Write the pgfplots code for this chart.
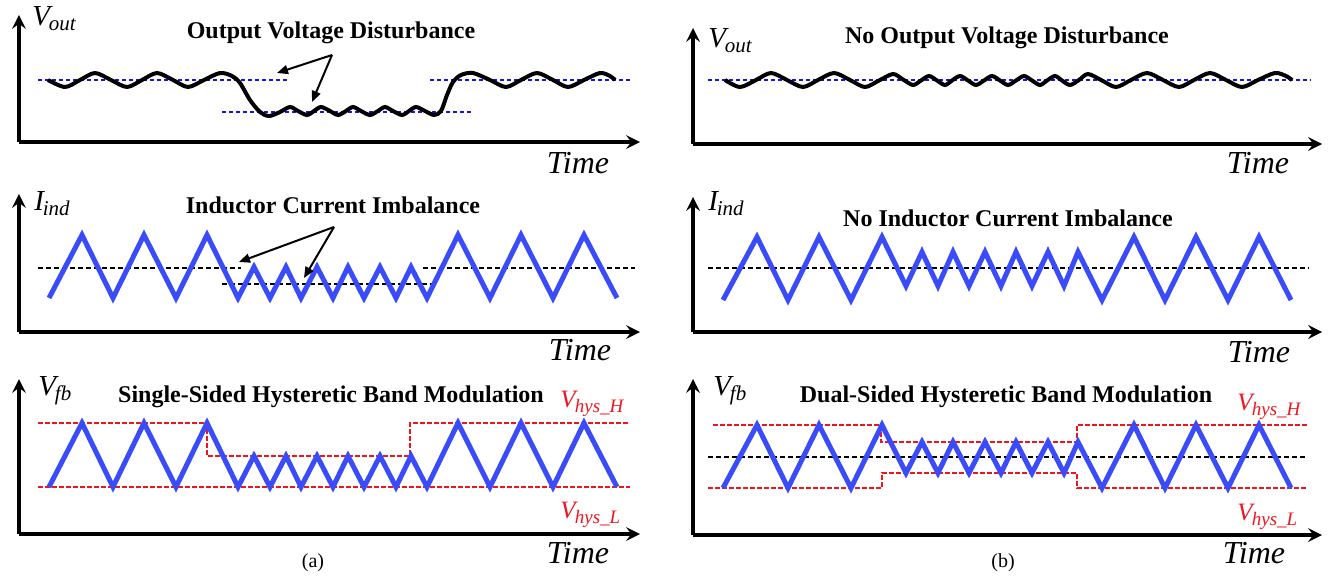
\documentclass[border=0pt]{standalone}
\usepackage{fontspec}
\setmainfont{Liberation Serif}
\usepackage{pgfplots}
\pgfplotsset{compat=1.18}
\usetikzlibrary{arrows.meta}

\definecolor{triblue}{RGB}{58,76,250}
\definecolor{dotblue}{RGB}{20,20,230}
\definecolor{hysred}{RGB}{240,20,30}

\newcommand{\ttl}[1]{{\fontsize{12pt}{14pt}\selectfont\bfseries #1}}
\newcommand{\axlab}[2]{{\fontsize{14.5pt}{16pt}\selectfont\itshape #1\kern-0.6pt\raisebox{-2.6pt}{\fontsize{10.5pt}{11pt}\selectfont #2}}}
\newcommand{\timelab}{{\fontsize{16pt}{18pt}\selectfont\itshape Time}}
\newcommand{\hyslab}[1]{{\color{hysred}\fontsize{12.5pt}{14pt}\selectfont\itshape V\kern-0.4pt\raisebox{-2.5pt}{\fontsize{9.5pt}{10pt}\selectfont hys\_#1}}}

\tikzset{annot/.style={-{Triangle[length=5.5pt,width=4.5pt]}, line width=1pt}}
\pgfplotsset{
  panel/.style={
    x=0.5pt, y=0.5pt, anchor=south west,
    axis lines=left, ticks=none, clip=false, enlargelimits=false,
    every non boxed x axis/.append style={x axis line style={-{Triangle[length=9pt,width=8.5pt]}}},
    every non boxed y axis/.append style={y axis line style={-{Triangle[length=9pt,width=8.5pt]}}},
    axis line style={line width=2pt},
  },
  tri/.style={color=triblue, line width=2.5pt, line join=miter, no marks},
  vout/.style={black, line width=2pt, smooth, no marks},
  bluedot/.style={dotblue, line width=1.1pt, dash pattern=on 2pt off 1.5pt, no marks},
  reddash/.style={hysred, line width=1pt, dash pattern=on 2.3pt off 1.2pt, no marks},
  blackdash/.style={black, line width=1pt, dash pattern=on 2.5pt off 1.5pt, no marks},
}

\begin{document}
\begin{tikzpicture}
\path[use as bounding box] (0,0) rectangle (665pt,-289pt);

% ---------------- (a) top: Vout
\begin{axis}[panel, xmin=19, xmax=640, ymin=-142, ymax=-15, at={(9.5pt,-71pt)}]
\addplot[bluedot] coordinates {(38,-80)(287,-80)};
\addplot[bluedot] coordinates {(222,-112)(473,-112)};
\addplot[bluedot] coordinates {(430,-80)(630,-80)};
\addplot[vout] coordinates {(48,-80)(65,-87)(80,-80)(95,-73)(111,-80)(127,-87)(142,-80)(157,-73)(173,-80)(188,-87)(204,-80)(220,-73)(232,-76)(240,-83)(250,-100)(260,-112)(269,-116)(280,-112)(290,-107)(298,-111)(307,-115)(314,-111)(321,-107)(330,-111)(338,-115)(346,-111)(353,-107)(361,-111)(370,-115)(378,-111)(385,-107)(393,-111)(402,-115)(409,-111)(416,-107)(425,-111)(434,-115)(441,-111)(447,-95)(453,-82)(461,-75)(473,-73)(490,-80)(506,-87)(521,-80)(537,-73)(553,-80)(568,-87)(584,-80)(600,-73)(610,-76)(615,-80)};
\node[inner sep=0] at (axis cs:331,-33) {\ttl{Output Voltage Disturbance}};
\draw[annot] (axis cs:332,-55) -- (axis cs:277,-73);
\draw[annot] (axis cs:332,-55) -- (axis cs:312,-102);
\node[anchor=base west, inner sep=0] at (axis cs:32,-25) {\axlab{V}{out}};
\node[inner sep=0] at (axis cs:578,-163) {\timelab};
\end{axis}

% ---------------- (a) middle: Iind
\begin{axis}[panel, xmin=19, xmax=640, ymin=-332, ymax=-194, at={(9.5pt,-166pt)}]
\addplot[blackdash] coordinates {(38,-268)(241,-268)};
\addplot[blackdash] coordinates {(222,-284)(434,-284)};
\addplot[blackdash] coordinates {(423,-268)(635,-268)};
\addplot[tri] coordinates {(49,-298)(82,-235)(113,-298)(144,-235)(176,-298)(207,-235)(238,-298)(254,-267)(270,-298)(286,-267)(301,-298)(317,-267)(333,-298)(348,-267)(364,-298)(380,-267)(396,-298)(411,-267)(427,-298)(458,-235)(490,-298)(521,-235)(553,-298)(584,-235)(617,-298)};
\node[inner sep=0] at (axis cs:333,-205) {\ttl{Inductor Current Imbalance}};
\draw[annot] (axis cs:334,-227) -- (axis cs:239,-262);
\draw[annot] (axis cs:334,-227) -- (axis cs:304,-278);
\node[anchor=base west, inner sep=0] at (axis cs:34,-210) {\axlab{I}{ind}};
\node[inner sep=0] at (axis cs:580,-350) {\timelab};
\end{axis}

% ---------------- (a) bottom: Vfb
\begin{axis}[panel, xmin=19, xmax=640, ymin=-534, ymax=-379, at={(9.5pt,-267pt)}]
\addplot[reddash] coordinates {(38,-423)(207,-423)(207,-456)(410,-456)(410,-423)(630,-423)};
\addplot[reddash] coordinates {(38,-487)(630,-487)};
\addplot[tri] coordinates {(49,-487)(82,-423)(113,-487)(144,-423)(176,-487)(207,-423)(238,-487)(254,-456)(270,-487)(286,-456)(301,-487)(317,-456)(333,-487)(348,-456)(364,-487)(380,-456)(396,-487)(411,-456)(427,-487)(458,-423)(490,-487)(521,-423)(553,-487)(584,-423)(617,-487)};
\node[inner sep=0] at (axis cs:331,-397) {\ttl{Single-Sided Hysteretic Band Modulation}};
\node[anchor=base west, inner sep=0] at (axis cs:38,-395) {\axlab{V}{fb}};
\node[anchor=base west, inner sep=0] at (axis cs:560,-407) {\hyslab{H}};
\node[anchor=base west, inner sep=0] at (axis cs:560,-518) {\hyslab{L}};
\node[inner sep=0] at (axis cs:578,-553) {\timelab};
\node[inner sep=0] at (axis cs:313,-563) {\fontsize{10pt}{12pt}\selectfont (a)};
\end{axis}

% ---------------- (b) top: Vout
\begin{axis}[panel, xmin=693, xmax=1322, ymin=-144, ymax=-28, at={(346.5pt,-72pt)}]
\addplot[bluedot] coordinates {(708,-80)(1311,-80)};
\addplot[vout] coordinates {(725,-80)(740,-87)(756,-80)(771,-73)(787,-80)(803,-87)(818,-80)(834,-73)(850,-80)(865,-87)(879,-80.5)(893,-74)(903,-79.5)(913,-85)(921,-80.5)(929,-76)(937,-80.5)(945,-85)(952,-80.5)(960,-76)(968,-80.5)(976,-85)(984,-80.5)(992,-76)(1000,-80.5)(1008,-85)(1016,-80.5)(1024,-76)(1032,-80.5)(1040,-85)(1047,-80.5)(1055,-76)(1062,-80.5)(1070,-85)(1079,-80)(1088,-74)(1102,-80.5)(1116,-87)(1131,-80)(1147,-73)(1163,-80)(1179,-87)(1194,-80)(1210,-73)(1226,-80)(1242,-87)(1258,-80)(1275,-73)(1286,-76)(1292,-80)};
\node[inner sep=0] at (axis cs:1007,-38) {\ttl{No Output Voltage Disturbance}};
\node[anchor=base west, inner sep=0] at (axis cs:708,-47) {\axlab{V}{out}};
\node[inner sep=0] at (axis cs:1258,-163) {\timelab};
\end{axis}

% ---------------- (b) middle: Iind
\begin{axis}[panel, xmin=693, xmax=1322, ymin=-332, ymax=-197, at={(346.5pt,-166pt)}]
\addplot[blackdash] coordinates {(708,-268)(1309,-268)};
\addplot[tri] coordinates {(723,-300)(757,-237)(788,-300)(819,-237)(851,-300)(882,-237)(906,-286)(922,-252)(938,-286)(953,-252)(969,-286)(985,-252)(1001,-286)(1016,-252)(1032,-286)(1048,-252)(1064,-286)(1078,-252)(1102,-300)(1134,-237)(1165,-300)(1196,-237)(1228,-300)(1259,-237)(1291,-300)};
\node[inner sep=0] at (axis cs:1008,-218) {\ttl{No Inductor Current Imbalance}};
\node[anchor=base west, inner sep=0] at (axis cs:708,-210) {\axlab{I}{ind}};
\node[inner sep=0] at (axis cs:1259,-352) {\timelab};
\end{axis}

% ---------------- (b) bottom: Vfb
\begin{axis}[panel, xmin=693, xmax=1322, ymin=-535, ymax=-379, at={(346.5pt,-267.5pt)}]
\addplot[blackdash] coordinates {(708,-457)(1307,-457)};
\addplot[reddash] coordinates {(713,-425)(881,-425)(881,-442)(1077,-442)(1077,-425)(1307,-425)};
\addplot[reddash] coordinates {(708,-488)(882,-488)(882,-473)(1077,-473)(1077,-488)(1307,-488)};
\addplot[tri] coordinates {(723,-488)(757,-425)(788,-488)(819,-425)(851,-488)(882,-425)(906,-473)(922,-442)(938,-473)(953,-442)(969,-473)(985,-442)(1001,-473)(1016,-442)(1032,-473)(1048,-442)(1064,-473)(1078,-442)(1102,-488)(1134,-425)(1165,-488)(1196,-425)(1228,-488)(1259,-425)(1291,-488)};
\node[inner sep=0] at (axis cs:1006,-397) {\ttl{Dual-Sided Hysteretic Band Modulation}};
\node[anchor=base west, inner sep=0] at (axis cs:713,-395) {\axlab{V}{fb}};
\node[anchor=base west, inner sep=0] at (axis cs:1237,-410) {\hyslab{H}};
\node[anchor=base west, inner sep=0] at (axis cs:1237,-520) {\hyslab{L}};
\node[inner sep=0] at (axis cs:1254,-553) {\timelab};
\node[inner sep=0] at (axis cs:1003,-563) {\fontsize{10pt}{12pt}\selectfont (b)};
\end{axis}
\end{tikzpicture}
\end{document}
